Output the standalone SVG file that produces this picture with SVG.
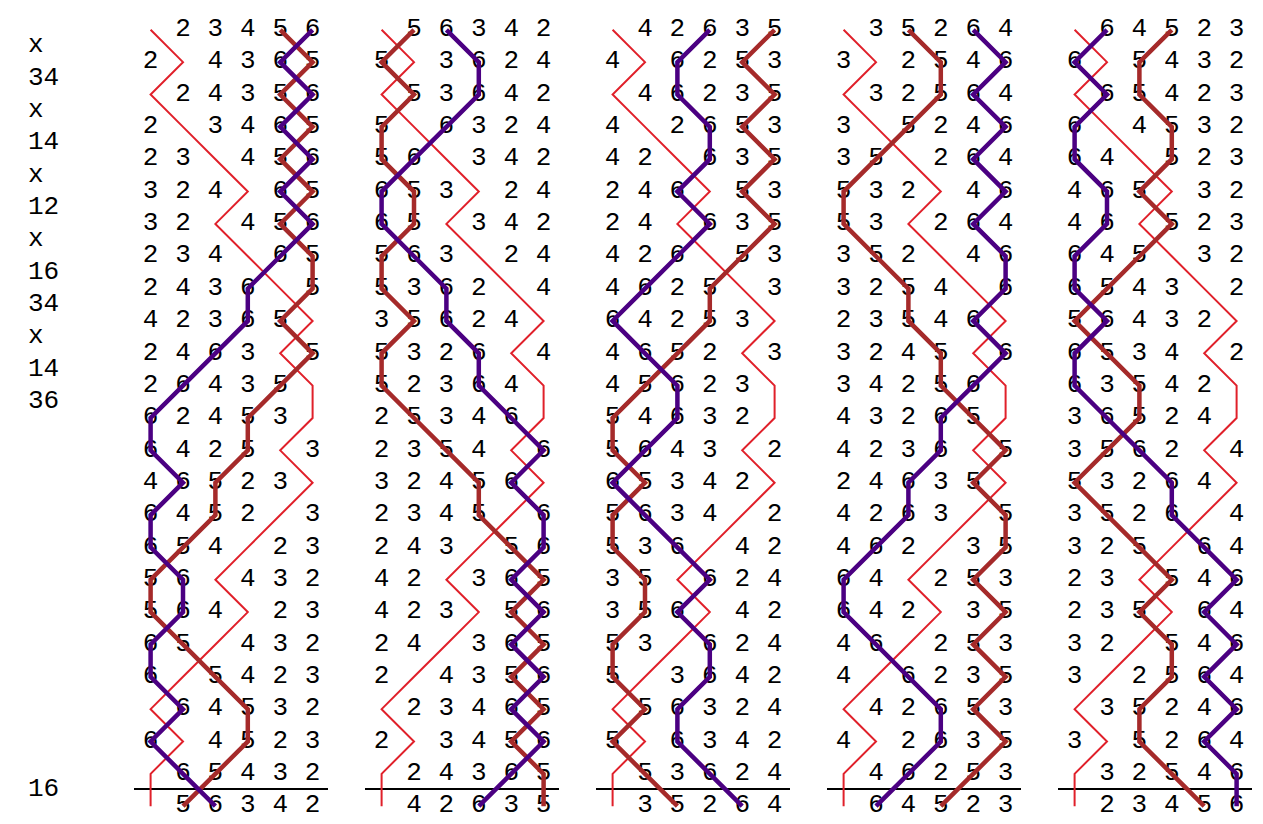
<svg xmlns="http://www.w3.org/2000/svg" width="1263" height="824" viewBox="0 0 1263 824">
<style>
.pn{font-family:"Liberation Mono","Courier New",monospace;font-size:26px;fill:#000}
.d{font-family:"Liberation Mono","Courier New",monospace;font-size:26px;fill:#000}
.tr{fill:none;stroke:#e0202a;stroke-width:2;vector-effect:non-scaling-stroke}
.b5{fill:none;stroke:#a52a2a;stroke-width:4.5;vector-effect:non-scaling-stroke}
.b6{fill:none;stroke:#4b0082;stroke-width:4.5;vector-effect:non-scaling-stroke}
.rule{stroke:#000;stroke-width:2}
</style>
<rect width="1263" height="824" fill="#fff"/>
<g id="place-notation">
<text class="pn" x="28" y="52.2">x</text>
<text class="pn" x="28" y="84.5">34</text>
<text class="pn" x="28" y="116.9">x</text>
<text class="pn" x="28" y="149.2">14</text>
<text class="pn" x="28" y="181.6">x</text>
<text class="pn" x="28" y="213.9">12</text>
<text class="pn" x="28" y="246.3">x</text>
<text class="pn" x="28" y="278.6">16</text>
<text class="pn" x="28" y="311">34</text>
<text class="pn" x="28" y="343.3">x</text>
<text class="pn" x="28" y="375.7">14</text>
<text class="pn" x="28" y="408">36</text>
<text class="pn" x="28" y="796.2">16</text>
</g>

<g id="lead1">
<text class="d">
<tspan x="175.2 207.6 240 272.4 304.8" y="36">23456</tspan>
<tspan x="142.8 207.6 240 272.4 304.8" y="68.35">24365</tspan>
<tspan x="175.2 207.6 240 272.4 304.8" y="100.7">24356</tspan>
<tspan x="142.8 207.6 240 272.4 304.8" y="133.05">23465</tspan>
<tspan x="142.8 175.2 240 272.4 304.8" y="165.4">23456</tspan>
<tspan x="142.8 175.2 207.6 272.4 304.8" y="197.75">32465</tspan>
<tspan x="142.8 175.2 240 272.4 304.8" y="230.1">32456</tspan>
<tspan x="142.8 175.2 207.6 272.4 304.8" y="262.45">23465</tspan>
<tspan x="142.8 175.2 207.6 240 304.8" y="294.8">24365</tspan>
<tspan x="142.8 175.2 207.6 240 272.4" y="327.15">42365</tspan>
<tspan x="142.8 175.2 207.6 240 304.8" y="359.5">24635</tspan>
<tspan x="142.8 175.2 207.6 240 272.4" y="391.85">26435</tspan>
<tspan x="142.8 175.2 207.6 240 272.4" y="424.2">62453</tspan>
<tspan x="142.8 175.2 207.6 240 304.8" y="456.55">64253</tspan>
<tspan x="142.8 175.2 207.6 240 272.4" y="488.9">46523</tspan>
<tspan x="142.8 175.2 207.6 240 304.8" y="521.25">64523</tspan>
<tspan x="142.8 175.2 207.6 272.4 304.8" y="553.6">65423</tspan>
<tspan x="142.8 175.2 240 272.4 304.8" y="585.95">56432</tspan>
<tspan x="142.8 175.2 207.6 272.4 304.8" y="618.3">56423</tspan>
<tspan x="142.8 175.2 240 272.4 304.8" y="650.65">65432</tspan>
<tspan x="142.8 207.6 240 272.4 304.8" y="683">65423</tspan>
<tspan x="175.2 207.6 240 272.4 304.8" y="715.35">64532</tspan>
<tspan x="142.8 207.6 240 272.4 304.8" y="747.7">64523</tspan>
<tspan x="175.2 207.6 240 272.4 304.8" y="780.05">65432</tspan>
<tspan x="175.2 207.6 240 272.4 304.8" y="812.4">56342</tspan>
</text>
<line class="rule" x1="134" y1="789" x2="328" y2="789"/>
</g>

<g id="lead2" transform="translate(231 0)">
<text class="d">
<tspan x="175.2 207.6 240 272.4 304.8" y="36">56342</tspan>
<tspan x="142.8 207.6 240 272.4 304.8" y="68.35">53624</tspan>
<tspan x="175.2 207.6 240 272.4 304.8" y="100.7">53642</tspan>
<tspan x="142.8 207.6 240 272.4 304.8" y="133.05">56324</tspan>
<tspan x="142.8 175.2 240 272.4 304.8" y="165.4">56342</tspan>
<tspan x="142.8 175.2 207.6 272.4 304.8" y="197.75">65324</tspan>
<tspan x="142.8 175.2 240 272.4 304.8" y="230.1">65342</tspan>
<tspan x="142.8 175.2 207.6 272.4 304.8" y="262.45">56324</tspan>
<tspan x="142.8 175.2 207.6 240 304.8" y="294.8">53624</tspan>
<tspan x="142.8 175.2 207.6 240 272.4" y="327.15">35624</tspan>
<tspan x="142.8 175.2 207.6 240 304.8" y="359.5">53264</tspan>
<tspan x="142.8 175.2 207.6 240 272.4" y="391.85">52364</tspan>
<tspan x="142.8 175.2 207.6 240 272.4" y="424.2">25346</tspan>
<tspan x="142.8 175.2 207.6 240 304.8" y="456.55">23546</tspan>
<tspan x="142.8 175.2 207.6 240 272.4" y="488.9">32456</tspan>
<tspan x="142.8 175.2 207.6 240 304.8" y="521.25">23456</tspan>
<tspan x="142.8 175.2 207.6 272.4 304.8" y="553.6">24356</tspan>
<tspan x="142.8 175.2 240 272.4 304.8" y="585.95">42365</tspan>
<tspan x="142.8 175.2 207.6 272.4 304.8" y="618.3">42356</tspan>
<tspan x="142.8 175.2 240 272.4 304.8" y="650.65">24365</tspan>
<tspan x="142.8 207.6 240 272.4 304.8" y="683">24356</tspan>
<tspan x="175.2 207.6 240 272.4 304.8" y="715.35">23465</tspan>
<tspan x="142.8 207.6 240 272.4 304.8" y="747.7">23456</tspan>
<tspan x="175.2 207.6 240 272.4 304.8" y="780.05">24365</tspan>
<tspan x="175.2 207.6 240 272.4 304.8" y="812.4">42635</tspan>
</text>
<line class="rule" x1="134" y1="789" x2="328" y2="789"/>
</g>

<g id="lead3" transform="translate(462 0)">
<text class="d">
<tspan x="175.2 207.6 240 272.4 304.8" y="36">42635</tspan>
<tspan x="142.8 207.6 240 272.4 304.8" y="68.35">46253</tspan>
<tspan x="175.2 207.6 240 272.4 304.8" y="100.7">46235</tspan>
<tspan x="142.8 207.6 240 272.4 304.8" y="133.05">42653</tspan>
<tspan x="142.8 175.2 240 272.4 304.8" y="165.4">42635</tspan>
<tspan x="142.8 175.2 207.6 272.4 304.8" y="197.75">24653</tspan>
<tspan x="142.8 175.2 240 272.4 304.8" y="230.1">24635</tspan>
<tspan x="142.8 175.2 207.6 272.4 304.8" y="262.45">42653</tspan>
<tspan x="142.8 175.2 207.6 240 304.8" y="294.8">46253</tspan>
<tspan x="142.8 175.2 207.6 240 272.4" y="327.15">64253</tspan>
<tspan x="142.8 175.2 207.6 240 304.8" y="359.5">46523</tspan>
<tspan x="142.8 175.2 207.6 240 272.4" y="391.85">45623</tspan>
<tspan x="142.8 175.2 207.6 240 272.4" y="424.2">54632</tspan>
<tspan x="142.8 175.2 207.6 240 304.8" y="456.55">56432</tspan>
<tspan x="142.8 175.2 207.6 240 272.4" y="488.9">65342</tspan>
<tspan x="142.8 175.2 207.6 240 304.8" y="521.25">56342</tspan>
<tspan x="142.8 175.2 207.6 272.4 304.8" y="553.6">53642</tspan>
<tspan x="142.8 175.2 240 272.4 304.8" y="585.95">35624</tspan>
<tspan x="142.8 175.2 207.6 272.4 304.8" y="618.3">35642</tspan>
<tspan x="142.8 175.2 240 272.4 304.8" y="650.65">53624</tspan>
<tspan x="142.8 207.6 240 272.4 304.8" y="683">53642</tspan>
<tspan x="175.2 207.6 240 272.4 304.8" y="715.35">56324</tspan>
<tspan x="142.8 207.6 240 272.4 304.8" y="747.7">56342</tspan>
<tspan x="175.2 207.6 240 272.4 304.8" y="780.05">53624</tspan>
<tspan x="175.2 207.6 240 272.4 304.8" y="812.4">35264</tspan>
</text>
<line class="rule" x1="134" y1="789" x2="328" y2="789"/>
</g>

<g id="lead4" transform="translate(693 0)">
<text class="d">
<tspan x="175.2 207.6 240 272.4 304.8" y="36">35264</tspan>
<tspan x="142.8 207.6 240 272.4 304.8" y="68.35">32546</tspan>
<tspan x="175.2 207.6 240 272.4 304.8" y="100.7">32564</tspan>
<tspan x="142.8 207.6 240 272.4 304.8" y="133.05">35246</tspan>
<tspan x="142.8 175.2 240 272.4 304.8" y="165.4">35264</tspan>
<tspan x="142.8 175.2 207.6 272.4 304.8" y="197.75">53246</tspan>
<tspan x="142.8 175.2 240 272.4 304.8" y="230.1">53264</tspan>
<tspan x="142.8 175.2 207.6 272.4 304.8" y="262.45">35246</tspan>
<tspan x="142.8 175.2 207.6 240 304.8" y="294.8">32546</tspan>
<tspan x="142.8 175.2 207.6 240 272.4" y="327.15">23546</tspan>
<tspan x="142.8 175.2 207.6 240 304.8" y="359.5">32456</tspan>
<tspan x="142.8 175.2 207.6 240 272.4" y="391.85">34256</tspan>
<tspan x="142.8 175.2 207.6 240 272.4" y="424.2">43265</tspan>
<tspan x="142.8 175.2 207.6 240 304.8" y="456.55">42365</tspan>
<tspan x="142.8 175.2 207.6 240 272.4" y="488.9">24635</tspan>
<tspan x="142.8 175.2 207.6 240 304.8" y="521.25">42635</tspan>
<tspan x="142.8 175.2 207.6 272.4 304.8" y="553.6">46235</tspan>
<tspan x="142.8 175.2 240 272.4 304.8" y="585.95">64253</tspan>
<tspan x="142.8 175.2 207.6 272.4 304.8" y="618.3">64235</tspan>
<tspan x="142.8 175.2 240 272.4 304.8" y="650.65">46253</tspan>
<tspan x="142.8 207.6 240 272.4 304.8" y="683">46235</tspan>
<tspan x="175.2 207.6 240 272.4 304.8" y="715.35">42653</tspan>
<tspan x="142.8 207.6 240 272.4 304.8" y="747.7">42635</tspan>
<tspan x="175.2 207.6 240 272.4 304.8" y="780.05">46253</tspan>
<tspan x="175.2 207.6 240 272.4 304.8" y="812.4">64523</tspan>
</text>
<line class="rule" x1="134" y1="789" x2="328" y2="789"/>
</g>

<g id="lead5" transform="translate(924 0)">
<text class="d">
<tspan x="175.2 207.6 240 272.4 304.8" y="36">64523</tspan>
<tspan x="142.8 207.6 240 272.4 304.8" y="68.35">65432</tspan>
<tspan x="175.2 207.6 240 272.4 304.8" y="100.7">65423</tspan>
<tspan x="142.8 207.6 240 272.4 304.8" y="133.05">64532</tspan>
<tspan x="142.8 175.2 240 272.4 304.8" y="165.4">64523</tspan>
<tspan x="142.8 175.2 207.6 272.4 304.8" y="197.75">46532</tspan>
<tspan x="142.8 175.2 240 272.4 304.8" y="230.1">46523</tspan>
<tspan x="142.8 175.2 207.6 272.4 304.8" y="262.45">64532</tspan>
<tspan x="142.8 175.2 207.6 240 304.8" y="294.8">65432</tspan>
<tspan x="142.8 175.2 207.6 240 272.4" y="327.15">56432</tspan>
<tspan x="142.8 175.2 207.6 240 304.8" y="359.5">65342</tspan>
<tspan x="142.8 175.2 207.6 240 272.4" y="391.85">63542</tspan>
<tspan x="142.8 175.2 207.6 240 272.4" y="424.2">36524</tspan>
<tspan x="142.8 175.2 207.6 240 304.8" y="456.55">35624</tspan>
<tspan x="142.8 175.2 207.6 240 272.4" y="488.9">53264</tspan>
<tspan x="142.8 175.2 207.6 240 304.8" y="521.25">35264</tspan>
<tspan x="142.8 175.2 207.6 272.4 304.8" y="553.6">32564</tspan>
<tspan x="142.8 175.2 240 272.4 304.8" y="585.95">23546</tspan>
<tspan x="142.8 175.2 207.6 272.4 304.8" y="618.3">23564</tspan>
<tspan x="142.8 175.2 240 272.4 304.8" y="650.65">32546</tspan>
<tspan x="142.8 207.6 240 272.4 304.8" y="683">32564</tspan>
<tspan x="175.2 207.6 240 272.4 304.8" y="715.35">35246</tspan>
<tspan x="142.8 207.6 240 272.4 304.8" y="747.7">35264</tspan>
<tspan x="175.2 207.6 240 272.4 304.8" y="780.05">32546</tspan>
<tspan x="175.2 207.6 240 272.4 304.8" y="812.4">23456</tspan>
</text>
<line class="rule" x1="134" y1="789" x2="328" y2="789"/>
</g>

<g id="bell-lines">
<g id="lines-lead1" transform="translate(150.6 29.8) scale(32.4 32.35)">
<polyline class="tr" points="0,0 1,1 0,2 1,3 2,4 3,5 2,6 3,7 4,8 5,9 4,10 5,11 5,12 4,13 5,14 4,15 3,16 2,17 3,18 2,19 1,20 0,21 1,22 0,23 0,24"/>
<polyline class="b5" points="4,0 5,1 4,2 5,3 4,4 5,5 4,6 5,7 5,8 4,9 5,10 4,11 3,12 3,13 2,14 2,15 1,16 0,17 0,18 1,19 2,20 3,21 3,22 2,23 1,24"/>
<polyline class="b6" points="5,0 4,1 5,2 4,3 5,4 4,5 5,6 4,7 3,8 3,9 2,10 1,11 0,12 0,13 1,14 0,15 0,16 1,17 1,18 0,19 0,20 1,21 0,22 1,23 2,24"/>
</g>
<g id="lines-lead2" transform="translate(381.6 29.8) scale(32.4 32.35)">
<polyline class="tr" points="0,0 1,1 0,2 1,3 2,4 3,5 2,6 3,7 4,8 5,9 4,10 5,11 5,12 4,13 5,14 4,15 3,16 2,17 3,18 2,19 1,20 0,21 1,22 0,23 0,24"/>
<polyline class="b5" points="1,0 0,1 1,2 0,3 0,4 1,5 1,6 0,7 0,8 1,9 0,10 0,11 1,12 2,13 3,14 3,15 4,16 5,17 4,18 5,19 4,20 5,21 4,22 5,23 5,24"/>
<polyline class="b6" points="2,0 3,1 3,2 2,3 1,4 0,5 0,6 1,7 2,8 2,9 3,10 3,11 4,12 5,13 4,14 5,15 5,16 4,17 5,18 4,19 5,20 4,21 5,22 4,23 3,24"/>
</g>
<g id="lines-lead3" transform="translate(612.6 29.8) scale(32.4 32.35)">
<polyline class="tr" points="0,0 1,1 0,2 1,3 2,4 3,5 2,6 3,7 4,8 5,9 4,10 5,11 5,12 4,13 5,14 4,15 3,16 2,17 3,18 2,19 1,20 0,21 1,22 0,23 0,24"/>
<polyline class="b5" points="5,0 4,1 5,2 4,3 5,4 4,5 5,6 4,7 3,8 3,9 2,10 1,11 0,12 0,13 1,14 0,15 0,16 1,17 1,18 0,19 0,20 1,21 0,22 1,23 2,24"/>
<polyline class="b6" points="3,0 2,1 2,2 3,3 3,4 2,5 3,6 2,7 1,8 0,9 1,10 2,11 2,12 1,13 0,14 1,15 2,16 3,17 2,18 3,19 3,20 2,21 2,22 3,23 4,24"/>
</g>
<g id="lines-lead4" transform="translate(843.6 29.8) scale(32.4 32.35)">
<polyline class="tr" points="0,0 1,1 0,2 1,3 2,4 3,5 2,6 3,7 4,8 5,9 4,10 5,11 5,12 4,13 5,14 4,15 3,16 2,17 3,18 2,19 1,20 0,21 1,22 0,23 0,24"/>
<polyline class="b5" points="2,0 3,1 3,2 2,3 1,4 0,5 0,6 1,7 2,8 2,9 3,10 3,11 4,12 5,13 4,14 5,15 5,16 4,17 5,18 4,19 5,20 4,21 5,22 4,23 3,24"/>
<polyline class="b6" points="4,0 5,1 4,2 5,3 4,4 5,5 4,6 5,7 5,8 4,9 5,10 4,11 3,12 3,13 2,14 2,15 1,16 0,17 0,18 1,19 2,20 3,21 3,22 2,23 1,24"/>
</g>
<g id="lines-lead5" transform="translate(1074.6 29.8) scale(32.4 32.35)">
<polyline class="tr" points="0,0 1,1 0,2 1,3 2,4 3,5 2,6 3,7 4,8 5,9 4,10 5,11 5,12 4,13 5,14 4,15 3,16 2,17 3,18 2,19 1,20 0,21 1,22 0,23 0,24"/>
<polyline class="b5" points="3,0 2,1 2,2 3,3 3,4 2,5 3,6 2,7 1,8 0,9 1,10 2,11 2,12 1,13 0,14 1,15 2,16 3,17 2,18 3,19 3,20 2,21 2,22 3,23 4,24"/>
<polyline class="b6" points="1,0 0,1 1,2 0,3 0,4 1,5 1,6 0,7 0,8 1,9 0,10 0,11 1,12 2,13 3,14 3,15 4,16 5,17 4,18 5,19 4,20 5,21 4,22 5,23 5,24"/>
</g>
</g>
</svg>
